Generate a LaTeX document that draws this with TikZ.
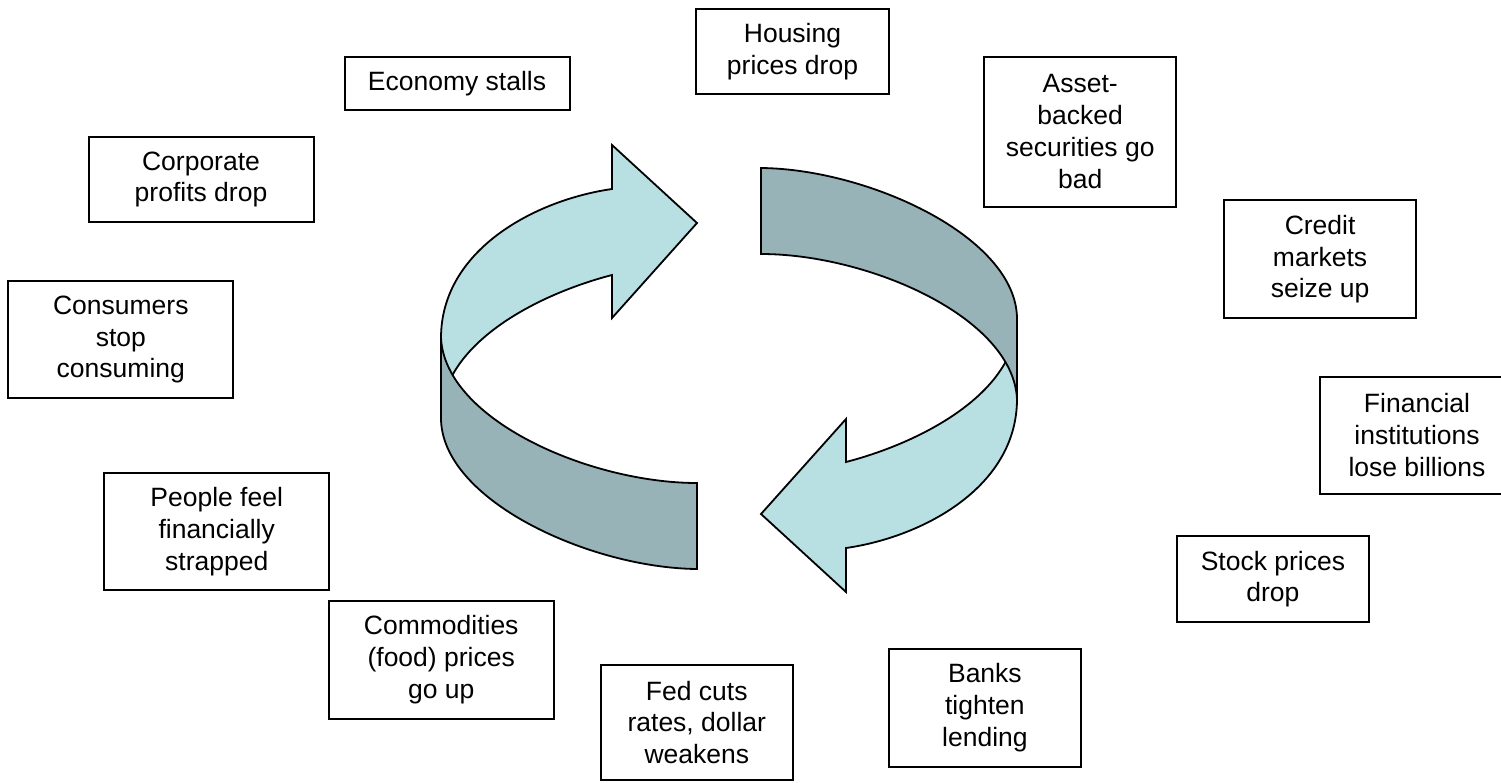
\documentclass[tikz,border=0pt]{standalone}
\usepackage{fontspec}
\setmainfont{Liberation Sans}
\definecolor{lightband}{HTML}{B8DFE2}
\definecolor{darkband}{HTML}{97B3B7}
\begin{document}
\begin{tikzpicture}[x=1pt,y=-1pt,
  box/.style={draw=black, line width=2pt, fill=white, align=center, inner sep=0pt,
    font=\fontsize{26.5}{31.8}\selectfont},
  narrowbox/.style={box, minimum width=192.5pt},
  widebox/.style={box, minimum width=225pt},
  lightpart/.style={fill=lightband, draw=black, line width=1.8pt, line join=miter},
  darkpart/.style={fill=darkband, draw=black, line width=1.8pt, line join=miter}]
\useasboundingbox (0,0) rectangle (1501,782);
\clip (0,0) rectangle (1501,782);

% left arrow (upper-left light head, lower-left dark band)
\path[lightpart] (441,338) .. controls (441,250) and (535,200) .. (612,189)
  -- (612,145) -- (697,223) -- (612,318) -- (612,275)
  .. controls (535,295) and (441,345) .. (441,418) -- cycle;
\path[darkpart] (441,338) .. controls (445,420) and (590,483) .. (697,483)
  -- (697,569) .. controls (590,568) and (441,500) .. (441,418) -- cycle;

% right arrow: same shape turned half a turn
\begin{scope}[rotate around={180:(729,368.5)}]
\path[lightpart] (441,338) .. controls (441,250) and (535,200) .. (612,189)
  -- (612,145) -- (697,223) -- (612,318) -- (612,275)
  .. controls (535,295) and (441,345) .. (441,418) -- cycle;
\path[darkpart] (441,338) .. controls (445,420) and (590,483) .. (697,483)
  -- (697,569) .. controls (590,568) and (441,500) .. (441,418) -- cycle;
\end{scope}

\node[narrowbox, minimum height=85.3pt] (housing) at (792.5,51.7) {Housing\\prices drop};
\node[widebox, minimum height=53.3pt] (economy) at (457,83.4) {Economy stalls};
\node[narrowbox, minimum height=150pt] (asset) at (1080.2,131.7) {Asset-\\backed\\securities go\\bad};
\node[widebox, minimum height=85.6pt] (corporate) at (201,179.5) {Corporate\\profits drop};
\node[narrowbox, minimum height=118.3pt] (credit) at (1320.1,259.2) {Credit\\markets\\seize up};
\node[widebox, minimum height=117pt] (consumers) at (120.8,339.5) {Consumers\\stop\\consuming};
\node[narrowbox, minimum width=194pt, minimum height=117pt] (financial) at (1417,435.2) {Financial\\institutions\\lose billions};
\node[widebox, minimum height=117.3pt] (people) at (216.7,531.4) {People feel\\financially\\strapped};
\node[narrowbox, minimum height=85.7pt] (stock) at (1272.9,579.2) {Stock prices\\drop};
\node[widebox, minimum height=117.7pt] (commodities) at (441.2,659.9) {Commodities\\(food) prices\\go up};
\node[narrowbox, minimum height=115.6pt] (fed) at (696.8,722.5) {Fed cuts\\rates, dollar\\weakens};
\node[narrowbox, minimum height=118.3pt] (banks) at (984.9,707.9) {Banks\\tighten\\lending};
\end{tikzpicture}
\end{document}
